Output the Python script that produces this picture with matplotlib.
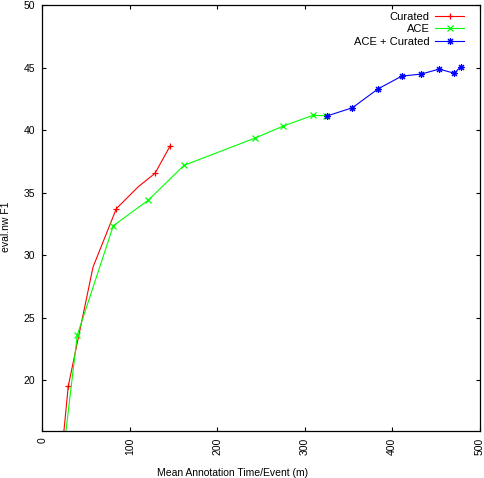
import matplotlib
matplotlib.use("Agg")
import matplotlib.pyplot as plt

plt.rcParams['font.family'] = ['Liberation Sans', 'DejaVu Sans']

# Curated (first point sits below the y range and gets clipped)
curated_x = [22.0, 29.7, 58.0, 84.7, 109.8, 128.9, 146.1]
curated_y = [14.0, 19.55, 29.06, 33.73, 35.48, 36.55, 38.73]
curated_marks = [1, 3, 5, 6]

# ACE
ace_x = [23.7, 40.0, 81.2, 121.3, 162.1, 243.4, 275.7, 309.4, 324.6]
ace_y = [14.0, 23.62, 32.36, 34.41, 37.19, 39.37, 40.33, 41.18, 41.15]

# ACE + Curated
both_x = [325.4, 354.7, 383.8, 411.2, 433.3, 453.9, 471.4, 478.3]
both_y = [41.13, 41.79, 43.29, 44.32, 44.48, 44.88, 44.54, 45.07]

xticks = [0, 100, 200, 300, 400, 500]
yticks = [20, 25, 30, 35, 40, 45, 50]

W, H = 484, 478
fig = plt.figure(figsize=(W / 100, H / 100), dpi=100)
ax = fig.add_axes([42.3 / W, 1 - 430.5 / H, (479.5 - 42.3) / W, (430.5 - 5) / H])

ax.plot(curated_x, curated_y, color='#ff0000', lw=0.8, marker='+', ms=5,
        mew=0.9, markevery=curated_marks, label='Curated')
ax.plot(ace_x, ace_y, color='#00ff00', lw=0.8, marker='x', ms=3.8,
        mew=0.9, label='ACE')
ax.plot(both_x, both_y, color='#0000ff', lw=0.8, marker=(8, 2, 0), ms=5,
        mew=0.8, label='ACE + Curated')

ax.set_xlim(0, 500)
ax.set_ylim(16, 50)
ax.set_xticks(xticks)
ax.set_yticks(yticks)
ax.set_xticklabels([str(v) for v in xticks], rotation=90)
ax.tick_params(direction='in', length=3, width=0.8, labelsize=7.5,
               top=True, right=True, pad=5)
for s in ax.spines.values():
    s.set_linewidth(0.9)

ax.legend(loc='upper right', bbox_to_anchor=(0.985, 1.005), frameon=False,
          markerfirst=False, fontsize=8, handlelength=2.6, handletextpad=0.5,
          labelspacing=0.22, borderaxespad=0.4)

fig.text(233 / W, 1 - 473 / H, 'Mean Annotation Time/Event (m)',
         ha='center', va='center', fontsize=7.5)
fig.text(6 / W, 1 - 227 / H, 'eval.nw F1', rotation=90,
         ha='center', va='center', fontsize=7.5)

fig.savefig('out.png', dpi=100)
